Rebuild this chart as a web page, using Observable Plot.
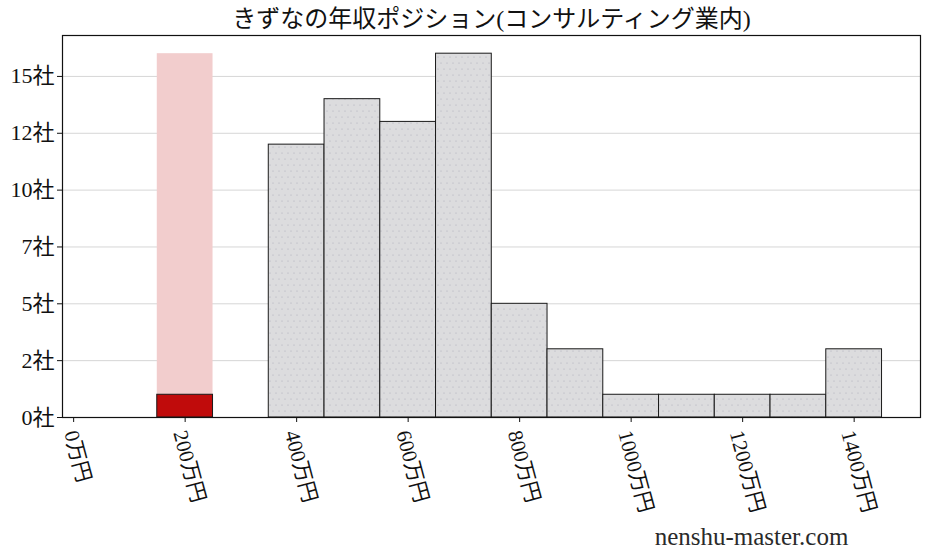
<!DOCTYPE html>
<html>
<head>
<meta charset="utf-8">
<script src="https://cdn.jsdelivr.net/npm/d3@7"></script>
<script src="https://cdn.jsdelivr.net/npm/@observablehq/plot@0.6"></script>
<style>
  html, body { margin: 0; padding: 0; background: #fff; }
  svg { font-family: "Liberation Serif", "Noto Sans CJK JP", serif; }
</style>
</head>
<body>
<div id="chart"></div>
<script>
const titleText = "きずなの年収ポジション(コンサルティング業内)";
const watermark = "nenshu-master.com";

// histogram bins (centre of each 100万円 bin) and company counts
const binCenters = [400, 500, 600, 700, 800, 900, 1000, 1100, 1200, 1300, 1400];
const binCounts  = [12, 14, 13, 16, 5, 3, 1, 1, 1, 1, 3];
const binWidth = 100;

// highlighted company bin
const highlightCenter = [200];
const highlightCount = [1];
const highlightBackground = [16];

// axis ticks
const yTicks = [0, 2.5, 5, 7.5, 10, 12.5, 15];
const yTickLabels = ["0社", "2社", "5社", "7社", "10社", "12社", "15社"];
const xTicks = [0, 200, 400, 600, 800, 1000, 1200, 1400];
const xTickLabels = ["0万円", "200万円", "400万円", "600万円", "800万円", "1000万円", "1200万円", "1400万円"];

const bars = binCenters.map((c, i) => ({c, n: binCounts[i]}));
const hl = highlightCenter.map((c, i) => ({c, n: highlightCount[i], bg: highlightBackground[i]}));
const yLabel = new Map(yTicks.map((t, i) => [t, yTickLabels[i]]));
const xLabel = new Map(xTicks.map((t, i) => [t, xTickLabels[i]]));

const labelGroups = [3, 5, 6].map(len => ({
  ticks: xTicks.filter(t => xLabel.get(t).length === len),
  dx: len === 3 ? -3 : len === 5 ? -5.5 : -6.5
}));

const plot = Plot.plot({
  width: 928,
  height: 557,
  marginLeft: 62,
  marginRight: 8,
  marginTop: 35,
  marginBottom: 140,
  x: {domain: [-20, 1519], axis: null},
  y: {domain: [0, 16.8], axis: null},
  marks: [
    Plot.gridY(yTicks, {stroke: "#d6d6d6", strokeOpacity: 1, strokeWidth: 1}),
    Plot.rectY(hl, {x1: d => d.c - binWidth / 2, x2: d => d.c + binWidth / 2, y1: 0, y2: "bg", fill: "#f2cdcd"}),
    Plot.rectY(bars, {x1: d => d.c - binWidth / 2, x2: d => d.c + binWidth / 2, y1: 0, y2: "n", fill: "url(#dots)", stroke: "#1a1a1a", strokeWidth: 1}),
    Plot.rectY(hl, {x1: d => d.c - binWidth / 2, x2: d => d.c + binWidth / 2, y1: 0, y2: "n", fill: "#c00b0b", stroke: "#1a1a1a", strokeWidth: 1}),
    Plot.frame({stroke: "#111", strokeWidth: 1.2}),
    Plot.axisY(yTicks, {tickFormat: () => "", tickSize: 5, stroke: "#111"}),
    Plot.text(yTicks, {
      y: d => d, text: d => yLabel.get(d), frameAnchor: "left",
      textAnchor: "end", lineAnchor: "middle", dx: -8, fontSize: 22, fill: "#111"
    }),
    Plot.axisX(xTicks, {tickFormat: () => "", tickSize: 5, stroke: "#111"}),
    ...labelGroups.map(g => Plot.text(g.ticks, {
      x: d => d, text: d => xLabel.get(d),
      frameAnchor: "bottom", rotate: 75, textAnchor: "start", lineAnchor: "middle",
      dy: 13.5, dx: g.dx, fontSize: 21, fill: "#111"
    })),
    Plot.text([titleText], {text: d => d, frameAnchor: "top", lineAnchor: "middle", dy: -16, fontSize: 24, fill: "#111"}),
    Plot.text([watermark], {
      text: d => d, frameAnchor: "bottom-right", textAnchor: "middle", lineAnchor: "middle",
      dx: -169, dy: 119, fontSize: 25, fill: "#2a2a2a", fontFamily: "Liberation Serif", fontWeight: "normal"
    })
  ]
});

d3.select(plot).insert("defs", ":first-child").html(`
  <pattern id="dots" patternUnits="userSpaceOnUse" width="12" height="12">
    <rect width="12" height="12" fill="#dcdcde"></rect>
    <circle cx="3" cy="3" r="0.6" fill="#aeaeb8"></circle>
    <circle cx="9" cy="3" r="0.6" fill="#aeaeb8"></circle>
    <circle cx="0" cy="9" r="0.6" fill="#aeaeb8"></circle>
    <circle cx="6" cy="9" r="0.6" fill="#aeaeb8"></circle>
    <circle cx="12" cy="9" r="0.6" fill="#aeaeb8"></circle>
  </pattern>`);

document.getElementById("chart").appendChild(plot);
</script>
</body>
</html>
